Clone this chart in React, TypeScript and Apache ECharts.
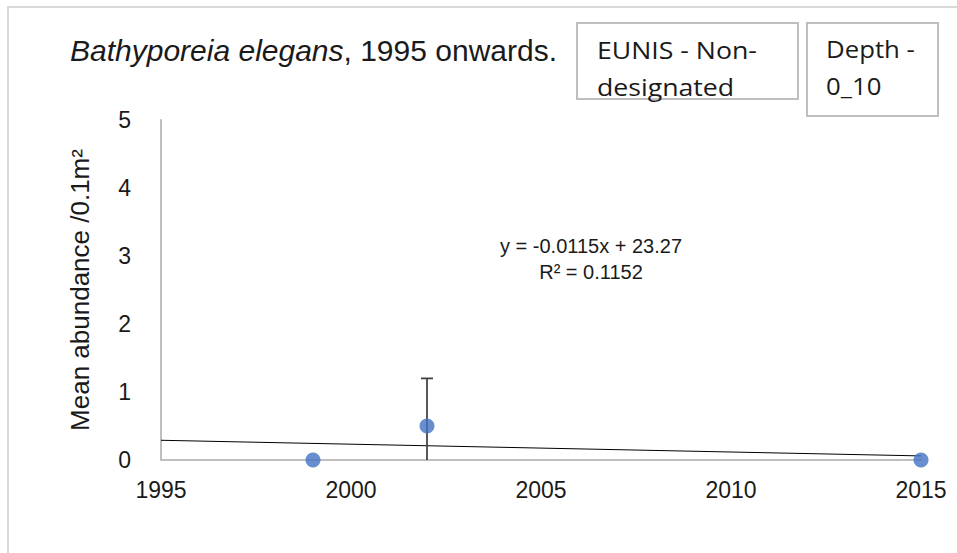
import React, { useEffect, useRef } from "react";
import * as echarts from "echarts";

const years = [1999, 2002, 2015];
const meanAbundance = [0, 0.5, 0];
const errorLower = [0, 0, 0];
const errorUpper = [0, 1.2, 0];
const trendYears = [1995, 2015];
const trendValues = [0.29, 0.06];
const yTicks = [0, 1, 2, 3, 4, 5];
const xTicks = [1995, 2000, 2005, 2010, 2015];
const titleSpecies = "Bathyporeia elegans";
const titleRest = ", 1995 onwards.";
const eunisLines = ["EUNIS - Non-", "designated"];
const depthLines = ["Depth -", "0_10"];
const equationLines = ["y = -0.0115x + 23.27", "R² = 0.1152"];

const ARIAL = "'Liberation Sans', Arial, sans-serif";
const CALIBRI = "'Open Sans', sans-serif";

export default function App() {
  const ref = useRef<HTMLDivElement>(null);
  useEffect(() => {
    document.body.style.margin = "0";
    if (!ref.current) return;
    const chart = echarts.init(ref.current, undefined, { renderer: "svg" });
    const pointData = years.map((y, i) => [y, meanAbundance[i]]);
    const errData = years
      .map((y, i) => [y, errorLower[i], errorUpper[i]])
      .filter((d) => d[2] > d[1]);
    chart.setOption({
      animation: false,
      backgroundColor: "#ffffff",
      grid: { left: 161, right: 36, top: 120, bottom: 93, containLabel: false },
      xAxis: {
        type: "value",
        min: xTicks[0],
        max: xTicks[xTicks.length - 1],
        interval: 5,
        axisLine: { show: true, lineStyle: { color: "#bfbfbf", width: 2 } },
        axisTick: { show: false },
        splitLine: { show: false },
        axisLabel: {
          color: "#1a1a1a",
          fontFamily: ARIAL,
          fontSize: 23,
          margin: 18,
          formatter: (v: number) => String(v),
        },
      },
      yAxis: {
        type: "value",
        min: yTicks[0],
        max: yTicks[yTicks.length - 1],
        interval: 1,
        name: "Mean abundance /0.1m²",
        nameLocation: "middle",
        nameGap: 68,
        nameRotate: 90,
        nameTextStyle: { color: "#1a1a1a", fontFamily: ARIAL, fontSize: 26 },
        axisLine: { show: true, lineStyle: { color: "#bfbfbf", width: 2 } },
        axisTick: { show: false },
        splitLine: { show: false },
        axisLabel: { color: "#1a1a1a", fontFamily: ARIAL, fontSize: 23, margin: 30 },
      },
      series: [
        {
          type: "line",
          data: trendYears.map((y, i) => [y, trendValues[i]]),
          symbol: "none",
          lineStyle: { color: "#000000", width: 1 },
          z: 2,
        },
        {
          type: "custom",
          data: errData,
          z: 3,
          renderItem: (params: any, api: any) => {
            const x = api.value(0);
            const lo = api.coord([x, api.value(1)]);
            const hi = api.coord([x, api.value(2)]);
            const cap = 6;
            return {
              type: "group",
              children: [
                {
                  type: "line",
                  shape: { x1: lo[0], y1: lo[1], x2: hi[0], y2: hi[1] },
                  style: { stroke: "#404040", lineWidth: 1.75 },
                },
                {
                  type: "line",
                  shape: { x1: hi[0] - cap, y1: hi[1], x2: hi[0] + cap, y2: hi[1] },
                  style: { stroke: "#404040", lineWidth: 1.75 },
                },
              ],
            };
          },
        },
        {
          type: "scatter",
          data: pointData,
          symbol: "circle",
          symbolSize: 15,
          itemStyle: { color: "#4472C4" },
          z: 4,
        },
      ],
      graphic: [
        {
          type: "polyline",
          shape: { points: [[8, 553], [8, 7], [957, 7]] },
          style: { stroke: "#d9d9d9", lineWidth: 2, fill: "none" },
        },
        {
          type: "text",
          x: 70,
          y: 35,
          style: {
            text: `{i|${titleSpecies}}{n|${titleRest}}`,
            verticalAlign: "top",
            rich: {
              i: { fontStyle: "italic", fontFamily: ARIAL, fontSize: 30, fill: "#1a1a1a" },
              n: { fontFamily: ARIAL, fontSize: 30, fill: "#1a1a1a" },
            },
          },
        },
        {
          type: "rect",
          shape: { x: 577, y: 23, width: 221, height: 76 },
          style: { fill: "#ffffff", stroke: "#bfbfbf", lineWidth: 2 },
        },
        {
          type: "text",
          x: 597,
          y: 31,
          scaleX: 1.16,
          style: {
            text: eunisLines.join("\n"),
            fontFamily: CALIBRI,
            fontSize: 23,
            lineHeight: 37,
            verticalAlign: "top",
            fill: "#1a1a1a",
          },
        },
        {
          type: "rect",
          shape: { x: 807, y: 23, width: 131, height: 93 },
          style: { fill: "#ffffff", stroke: "#bfbfbf", lineWidth: 2 },
        },
        {
          type: "text",
          x: 826,
          y: 31,
          scaleX: 1.12,
          style: {
            text: depthLines.join("\n"),
            fontFamily: CALIBRI,
            fontSize: 23,
            lineHeight: 37,
            verticalAlign: "top",
            fill: "#1a1a1a",
          },
        },
        {
          type: "text",
          x: 591,
          y: 259,
          style: {
            text: equationLines.join("\n"),
            fontFamily: ARIAL,
            fontSize: 20,
            lineHeight: 26,
            align: "center",
            verticalAlign: "middle",
            fill: "#1a1a1a",
          },
        },
      ],
    });
    return () => chart.dispose();
  }, []);
  return <div ref={ref} style={{ width: 957, height: 553 }} />;
}
